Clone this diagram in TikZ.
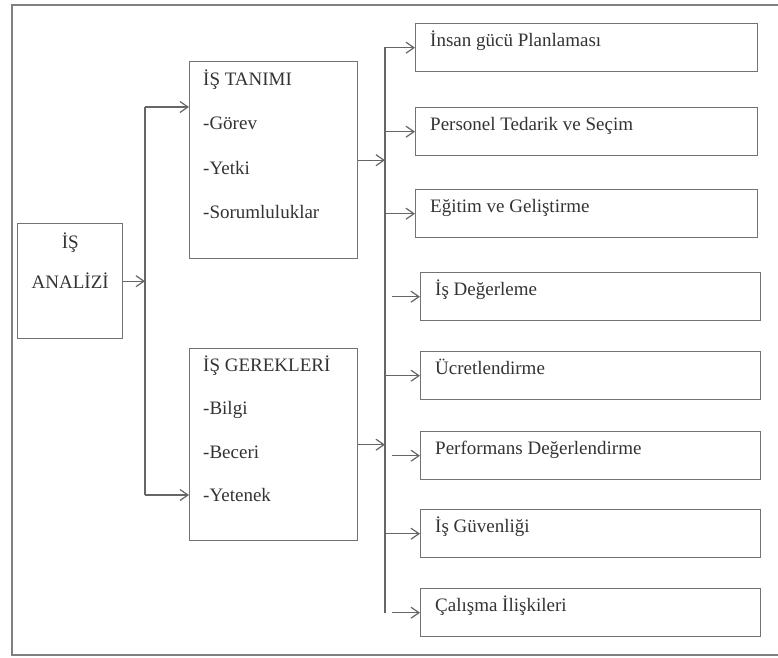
\documentclass[tikz,border=0pt]{standalone}
\usepackage{fontspec}
\setmainfont{Liberation Serif}
\usetikzlibrary{arrows.meta,positioning}

\begin{document}
\begin{tikzpicture}[x=1pt, y=-1pt,
    kutu/.style={draw=black!55, line width=1.4pt, inner sep=0pt, anchor=north west},
    yazi/.style={text=black!80, inner sep=0pt, font=\fontsize{19}{22}\selectfont},
    cizgi/.style={draw=black!60, line width=1.2pt},
    ok/.style={cizgi, -{Straight Barb[length=8pt,width=11pt]}}]
    \useasboundingbox (0,0) rectangle (778,657);
    % frame
    \draw [black!50, line width=1.8pt] (12,5) rectangle (800,655);

    % is analizi
    \node [kutu, minimum width=105pt, minimum height=115pt] (analiz) at (17,223) {};
    \node [yazi, anchor=base] (analiz1) at ([yshift=-25]analiz.north) {İŞ};
    \node [yazi, anchor=base] (analiz2) at ([yshift=-65]analiz.north) {ANALİZİ};

    % is tanimi / is gerekleri
    \node [kutu, minimum width=168pt, minimum height=197pt] (tanim) at (189,61) {};
    \node [kutu, minimum width=168pt, minimum height=192pt] (gerek) at (189,348) {};
    \foreach \t [count=\k from 0] in {İŞ TANIMI,-Görev,-Yetki,-Sorumluluklar}
        \node [yazi, anchor=base west] (tanim\k) at ([xshift=14, yshift={-24-44.5*\k}]tanim.north west) {\t};
    \foreach \t [count=\k from 0] in {İŞ GEREKLERİ,-Bilgi,-Beceri,-Yetenek}
        \node [yazi, anchor=base west] (gerek\k) at ([xshift=14, yshift={-23-43.5*\k}]gerek.north west) {\t};

    \coordinate (lbus1) at (145,107);
    \coordinate (lbus2) at (145,495);
    \draw [cizgi] (lbus1) -- (lbus2);
    \draw [ok] (analiz.east) -- (analiz.east -| lbus1);
    \draw [ok] (lbus1) -- (lbus1 -| tanim.west);
    \draw [ok] (lbus2) -- (lbus2 -| gerek.west);

    % uygulama alanlari
    \coordinate (bus) at (385,47);
    \foreach \i/\l/\t/\w/\g/\s in {
        1/415/23/342/0/İnsan gücü Planlaması,
        2/415/107/342/0/Personel Tedarik ve Seçim,
        3/415/189/342/0/Eğitim ve Geliştirme,
        4/420/272/340/7/İş Değerleme,
        5/420/351/340/0/Ücretlendirme,
        6/420/431/340/7/Performans Değerlendirme,
        7/420/509/340/0/İş Güvenliği,
        8/420/588/340/7/Çalışma İlişkileri} {
        \node [kutu, minimum width=\w pt, minimum height=48pt] (r\i) at (\l,\t) {};
        \node [yazi, anchor=base west] (rt\i) at ([xshift=15, yshift=-23]r\i.north west) {\s};
        \draw [ok] ([xshift=\g]bus |- r\i.west) -- (r\i.west);
    }
    \draw [cizgi] (bus) -- (bus |- r8.west);
    \draw [ok] (tanim.east) -- (tanim.east -| bus);
    \draw [ok] (gerek.east) -- (gerek.east -| bus);
\end{tikzpicture}
\end{document}
